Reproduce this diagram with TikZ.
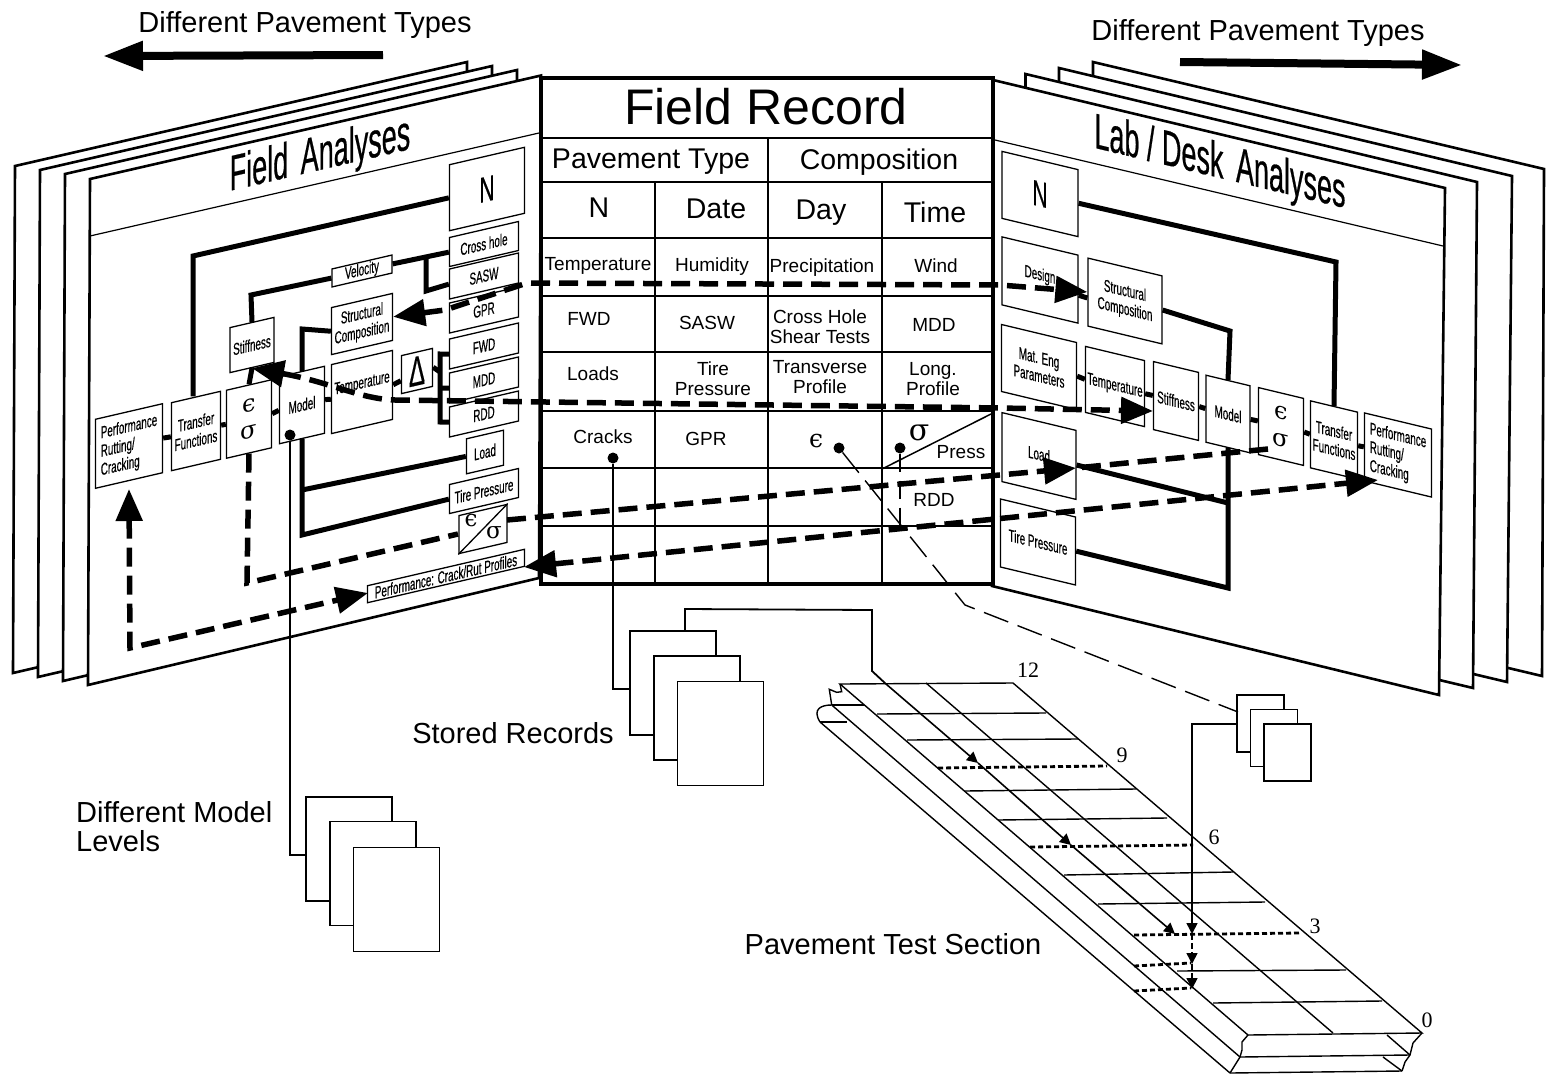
\documentclass[tikz,border=0pt]{standalone}
\usepackage{fontspec}
\setmainfont{Liberation Sans}
\newfontfamily\narrowfont[FakeStretch=0.58,FakeBold=0.4]{Liberation Sans}
\newfontfamily\headfont[FakeStretch=0.54,FakeBold=0.4]{Liberation Sans}
\newfontfamily\numfont{Liberation Serif}
\newfontfamily\symfont{DejaVu Serif}
\usetikzlibrary{arrows.meta}
\newcommand{\fsize}[1]{\fontsize{#1}{#1}\selectfont}
\tikzset{
  pagesheet/.style={draw, fill=white, line width=2.6pt, line join=miter},
  lbox/.style 2 args={draw, fill=white, line width=1.3pt, inner sep=0pt, yslant=0.232, align=center,
    minimum width=#1pt, minimum height=#2pt, font=\narrowfont\fontsize{17}{18.5}\selectfont},
  rbox/.style 2 args={draw, fill=white, line width=1.3pt, inner sep=0pt, yslant=-0.24, align=center,
    minimum width=#1pt, minimum height=#2pt, font=\narrowfont\fontsize{17}{18.5}\selectfont},
  lhead/.style={inner sep=0pt, yslant=0.232, font=\headfont\fsize{50}},
  rhead/.style={inner sep=0pt, yslant=-0.24, font=\headfont\fsize{50}},
  cell/.style={inner sep=0pt, align=center, font=\fontsize{19}{20}\selectfont},
  bigcell/.style={inner sep=0pt, font=\fsize{28.5}},
  caption/.style={inner sep=0pt, align=left, font=\fontsize{29}{29}\selectfont},
  numlabel/.style={inner sep=0pt, font=\numfont\fsize{22}},
  greek/.style={inner sep=0pt, align=center, font=\symfont\fontsize{#1}{27}\selectfont},
  link/.style={line width=5pt},
  dashline/.style={line width=5.5pt, dash pattern=on 19pt off 9pt, >={Triangle[length=32pt,width=26pt]}},
  wire/.style={line width=1.8pt},
  thinline/.style={line width=1.4pt},
  dotline/.style={line width=2.8pt, dash pattern=on 5pt off 3pt},
  smallarrow/.style={line width=1.6pt, >={Triangle[length=11pt,width=11pt]}},
  sheet/.style={draw, fill=white, line width=1.9pt, inner sep=0pt},
  dotmark/.style={circle, fill=black, inner sep=0pt, minimum size=11pt},
}
\begin{document}
\begin{tikzpicture}[x=1pt, y=-1pt]
  \useasboundingbox (0,0) rectangle (1547,1076);

  % pages
  \draw[pagesheet] (15,166) -- (467,62) -- (465,568) -- (13,673) -- cycle;
  \draw[pagesheet] (40,170) -- (492,66) -- (490,572) -- (38,677) -- cycle;
  \draw[pagesheet] (65,174) -- (517,70) -- (515,575) -- (63,681) -- cycle;
  \draw[pagesheet] (90,179) -- (541,75.5) -- (539,578) -- (88,685) -- cycle;
  \draw[pagesheet] (1093,62) -- (1544,169) -- (1542,676) -- (1091,569) -- cycle;
  \draw[pagesheet] (1059,68) -- (1512,176) -- (1507,682) -- (1057,575) -- cycle;
  \draw[pagesheet] (1025.5,74) -- (1477,182) -- (1473,688) -- (1023,581) -- cycle;
  \draw[pagesheet] (993,80) -- (1445,188) -- (1439,695) -- (992,586) -- cycle;
  \draw[line width=1.2pt] (90,236) -- (539,133);
  \draw[line width=1.2pt] (995,140) -- (1443,246);
  \node[lhead] (lTitle) at (320,157) {Field\hspace{0.25em}Analyses};
  \node[rhead] (rTitle) at (1220,165) {Lab / Desk\hspace{0.25em}Analyses};

  % field analyses page
  \node[lbox={75}{66}, font=\narrowfont\fsize{36}] (lN) at (487,189) {N};
  \node[lbox={69}{29}] (lCross) at (484,244) {Cross hole};
  \node[lbox={69}{30}] (lSasw) at (484,276) {SASW};
  \node[lbox={69}{30}] (lGpr) at (484,310) {GPR};
  \node[lbox={69}{30}] (lFwd) at (484,346) {FWD};
  \node[lbox={69}{30}] (lMdd) at (484,380) {MDD};
  \node[lbox={69}{30}] (lRdd) at (484,414) {RDD};
  \node[lbox={37}{35}] (lLoad) at (485,452) {Load};
  \node[lbox={69}{29}] (lTire) at (484,491) {Tire Pressure};
  \node[lbox={48}{38}] (lRatio) at (483,529) {};
  \node[lbox={157}{17}] (lProfiles) at (446,576) {Performance: Crack/Rut Profiles};
  \node[lbox={60}{18}] (lVel) at (362,271) {Velocity};
  \node[lbox={61}{47}] (lStruct) at (362,324) {Structural\\Composition};
  \node[lbox={61}{69}] (lTemp) at (362,392) {\raisebox{19pt}{Temperature}};
  \node[lbox={31}{38}, font=\narrowfont\fsize{42}] (lDelta) at (417,371) {Δ};
  \node[lbox={45}{67}] (lModel) at (302,405) {Model};
  \node[lbox={44}{45}] (lStiff) at (252,345) {Stiffness};
  \node[lbox={45}{68}, greek=24] (lStrain) at (249,419) {ϵ\\σ};
  \node[lbox={49}{68}] (lTrans) at (196,431) {Transfer\\Functions};
  \node[lbox={67}{69}, align=left] (lPerf) at (129,446) {Performance\\Rutting/\\Cracking};
  \node[greek=23] (lRatioE) at (471,521) {ϵ};
  \node[greek=23] (lRatioS) at (494,533) {σ};
  \draw[line width=1.3pt] (lRatio.south west) -- (lRatio.north east);

  \coordinate (lOuter) at (193,256);
  \coordinate (lMid) at (251,295);
  \coordinate (lBranchA) at (426,256);
  \coordinate (lBranchB) at (426,291);
  \coordinate (lCompC) at (302,329);
  \coordinate (lCombT) at (440,354);
  \coordinate (lCombM) at (440,388);
  \coordinate (lCombB) at (440,422);
  \coordinate (lCombD) at (440,372);
  \coordinate (lLoadC) at (302,490);
  \coordinate (lTireC) at (302,535);
  \draw[link] (lN.west) -- (lOuter) -- (lTrans.north -| lOuter);
  \draw[link] (lStiff.north) -- (lMid) -- (lVel.west);
  \draw[link] (lVel.east) -- (lCross.west);
  \draw[link] (lBranchA) -- (lBranchB) -- (lSasw.west);
  \draw[link] (lStiff.south) -- (lStrain.north);
  \draw[link] (lStruct.west) -- (lCompC) -- (lModel.north);
  \draw[link] (lModel.east) -- (lTemp.west);
  \draw[link] (lTemp.east) -- ([yshift=-6pt]lDelta.west);
  \draw[link] (lDelta.east) -- (lCombD);
  \draw[link] (lFwd.west) -- (lCombT) -- (lCombB) -- (lRdd.west);
  \draw[link] (lMdd.west) -- (lCombM);
  \draw[link] (lModel.west) -- (lStrain.east);
  \draw[link] (lStrain.west) -- (lTrans.east);
  \draw[link] (lTrans.west) -- (lPerf.east);
  \draw[link] (lModel.south) -- (lTireC) -- (lTire.west);
  \draw[link] (lLoadC) -- (lLoad.west);

  % lab / desk page
  \node[rbox={76}{67}, font=\narrowfont\fsize{36}] (rN) at (1040,194) {N};
  \node[rbox={76}{68}] (rDesign) at (1040,280) {\raisebox{12pt}{Design}};
  \node[rbox={74}{68}] (rStruct) at (1125,301) {Structural\\Composition};
  \node[rbox={75}{67}] (rMat) at (1039,367) {Mat. Eng\\Parameters};
  \node[rbox={59}{66}] (rTemp) at (1115,386.5) {Temperature};
  \node[rbox={45}{68}] (rStiff) at (1176,401) {Stiffness};
  \node[rbox={44}{67}] (rModel) at (1228,414) {Model};
  \node[rbox={45}{67}, greek=24] (rStrain) at (1281,426.5) {ϵ\\σ};
  \node[rbox={47}{67}] (rTrans) at (1334,440) {Transfer\\Functions};
  \node[rbox={67}{68}, align=left] (rPerf) at (1398,455) {Performance\\Rutting/\\Cracking};
  \node[rbox={74}{69}] (rLoad) at (1039,456) {\raisebox{4pt}{Load}};
  \node[rbox={75}{68}] (rTire) at (1038,542) {Tire Pressure};

  \coordinate (rOuter) at (1336,262);
  \coordinate (rCompC) at (1230,331);
  \coordinate (rLow) at (1228,588);
  \coordinate (rLoadC) at (1228,503);
  \draw[link] (rN.east) -- (rOuter) -- (rTrans.north);
  \draw[link] (rStruct.east) -- (rCompC) -- (rModel.north);
  \draw[link] (rModel.south) -- (rLow) -- (rTire.east);
  \draw[link] (rLoad.east) -- (rLoadC);
  \draw[link] ([yshift=-6pt]rDesign.east) -- ([yshift=-6pt]rStruct.west);
  \draw[link] (rMat.east) -- (rTemp.west);
  \draw[link] (rTemp.east) -- (rStiff.west);
  \draw[link] (rStiff.east) -- (rModel.west);
  \draw[link] (rModel.east) -- (rStrain.west);
  \draw[link] (rStrain.east) -- (rTrans.west);
  \draw[link] (rTrans.east) -- (rPerf.west);

  % field record table
  \draw[fill=white, line width=4pt] (541,78) rectangle (993,584);
  \draw[line width=1.5pt] (541,138) -- (993,138);
  \draw[line width=1.5pt] (541,182) -- (993,182);
  \draw[line width=1.5pt] (541,238) -- (993,238);
  \draw[line width=1.5pt] (541,296) -- (993,296);
  \draw[line width=1.5pt] (541,352) -- (993,352);
  \draw[line width=1.5pt] (541,411) -- (993,411);
  \draw[line width=1.5pt] (541,468) -- (993,468);
  \draw[line width=1.5pt] (541,526) -- (993,526);
  \draw[line width=1.5pt] (655,182) -- (655,582);
  \draw[line width=1.5pt] (768,138) -- (768,582);
  \draw[line width=1.5pt] (882,182) -- (882,582);
  \draw[line width=1.5pt] (882,469) -- (991,414);
  \node[inner sep=0pt, font=\fsize{50}] (tTitle) at (766,107) {Field Record};
  \node[bigcell] (tType) at (651,162) {Pavement Type};
  \node[bigcell] (tComp) at (879,162) {Composition};
  \node[bigcell] (tN) at (599,208) {N};
  \node[bigcell] (tDate) at (716,209) {Date};
  \node[bigcell] (tDay) at (821,213) {Day};
  \node[bigcell] (tTime) at (935,212) {Time};
  \node[cell] (tTemp) at (598,266) {Temperature};
  \node[cell] (tHum) at (712,267) {Humidity};
  \node[cell] (tPrec) at (822,268) {Precipitation};
  \node[cell] (tWind) at (936,266) {Wind};
  \node[cell] (tFwd) at (589,319) {FWD};
  \node[cell] (tSasw) at (707,323) {SASW};
  \node[cell] (tCross) at (820,327) {Cross Hole\\Shear Tests};
  \node[cell] (tMdd) at (934,325) {MDD};
  \node[cell] (tLoads) at (593,374) {Loads};
  \node[cell] (tTire) at (713,379) {Tire\\Pressure};
  \node[cell] (tTrans) at (820,377) {Transverse\\Profile};
  \node[cell] (tLong) at (933,379) {Long.\\Profile};
  \node[cell] (tCracks) at (603,437) {Cracks};
  \node[cell] (tGpr) at (706,439) {GPR};
  \node[greek=25] (tEps) at (816,441) {ϵ};
  \node[greek=30] (tSig) at (919,433) {σ};
  \node[cell] (tPress) at (961,452) {Press};
  \node[cell] (tRdd) at (934,500) {RDD};

  % dashed paths
  \coordinate (dA) at (445,310);
  \coordinate (dB) at (527,283);
  \coordinate (dC) at (1000,285);
  \draw[dashline, <->] (lStruct.east) -- (dA) -- (dB) -- (dC) -- (rStruct.west);
  \coordinate (sA) at (395,400);
  \coordinate (sB) at (1000,408);
  \coordinate (sC) at (1153,411);
  \draw[dashline, <->] (lStiff.south) .. controls (330,382) and (360,399) .. (sA) -- (sB) -- (sC);
  \coordinate (eA) at (247,583);
  \coordinate (eB) at (458,534);
  \coordinate (eC) at (507,520);
  \coordinate (eD) at (1076,468);
  \coordinate (eE) at (1268,449);
  \draw[dashline] (lStrain.south) -- (eA) -- (eB);
  \draw[dashline] (eE) -- (eD);
  \draw[dashline, ->] (eC) -- (eD);
  \coordinate (pA) at (130,648);
  \coordinate (pB) at (368,593);
  \draw[dashline, <->] (129,489) -- (pA) -- (pB);
  \coordinate (fA) at (524,567);
  \coordinate (fB) at (1378,480);
  \draw[dashline, <->] (fA) -- (fB);

  % stacks
  \node[sheet, minimum width=86pt, minimum height=104pt] (recA) at (673,683) {};
  \node[sheet, minimum width=86pt, minimum height=104pt] (recB) at (697,708) {};
  \node[sheet, minimum width=86pt, minimum height=104pt] (recC) at (720.5,733.5) {};
  \node[sheet, minimum width=86pt, minimum height=104pt] (modA) at (349,849) {};
  \node[sheet, minimum width=86pt, minimum height=104pt] (modB) at (373,873.5) {};
  \node[sheet, minimum width=86pt, minimum height=104pt] (modC) at (396.5,899.5) {};
  \node[sheet, minimum width=47pt, minimum height=57pt] (subA) at (1260.5,723.5) {};
  \node[sheet, minimum width=47pt, minimum height=57pt] (subB) at (1274,738) {};
  \node[sheet, minimum width=47pt, minimum height=57pt] (subC) at (1287.5,752.5) {};
  \node[dotmark] (dotCracks) at (613,458) {};
  \node[dotmark] (dotModel) at (290,435) {};
  \node[dotmark] (dotEps) at (839,448) {};
  \node[dotmark] (dotSig) at (900,448) {};
  \coordinate (recIn) at (630,689);
  \coordinate (modIn) at (306,855);
  \coordinate (dashBend) at (965,605);
  \coordinate (subIn) at (1238,712);
  \coordinate (sigEnd) at (900,527);
  \coordinate (subOut) at (1237,724);
  \coordinate (subDrop) at (1192,724);
  \coordinate (tapA) at (685,631);
  \coordinate (tapB) at (685,609);
  \coordinate (tapC) at (872,610);
  \coordinate (tapD) at (872,671);
  \coordinate (tapE) at (886,684);
  \draw[wire] (dotCracks) |- (recIn);
  \draw[wire] (dotModel) |- (modIn);
  \draw[thinline, dash pattern=on 26pt off 10pt] (dotEps) -- (dashBend) -- (subIn);
  \draw[wire, dash pattern=on 18pt off 9pt] (dotSig) -- (sigEnd);
  \draw[wire] (tapA) -- (tapB) -- (tapC) -- (tapD) -- (tapE);

  % pavement test section
  \draw[thinline] (840,684) -- (1013,683) -- (1422,1033) -- (1248,1035) -- cycle;
  \draw[thinline] (840,684) -- (841.7,691.7) -- (836.7,692.3) -- (829.3,689.3) -- (831.7,705);
  \draw[thinline] (831.7,705) .. controls (821,705) and (812,709) .. (820,722);
  \draw[thinline] (831.7,705) -- (864,705);
  \draw[thinline] (820,722) -- (847,722);
  \draw[thinline] (831.7,705) -- (1240,1057);
  \draw[thinline] (820,722) -- (1230,1073);
  \draw[thinline] (1248,1035) -- (1242,1042) -- (1242,1050) -- (1240,1057) -- (1230,1073);
  \draw[thinline] (1422,1033) -- (1413,1043) -- (1410,1055) -- (1405,1062) -- (1402,1071);
  \draw[thinline] (1240,1057) -- (1410,1055);
  \draw[thinline] (1230,1073) -- (1402,1071);
  \draw[thinline] (1387,1035) -- (1410,1055);
  \draw[thinline] (1383,1057) -- (1402,1071);
  \draw[thinline] (926,683) -- (1333,1033);
  \draw[thinline] (877,714) -- (1046,713);
  \draw[thinline] (907,740) -- (1078,739);
  \draw[thinline] (965,791) -- (1136,789);
  \draw[thinline] (998,820) -- (1167,818);
  \draw[thinline] (1064,875) -- (1233,872);
  \draw[thinline] (1098,904) -- (1265,902);
  \draw[thinline] (1177,971) -- (1346,970);
  \draw[thinline] (1213,1003) -- (1382,1001);
  \draw[dotline] (938,768) -- (1107,766);
  \draw[dotline] (1030,847) -- (1193,845);
  \draw[dotline] (1134,935) -- (1300,933);
  \draw[dotline] (1134,966) -- (1191,963);
  \draw[dotline] (1134,991) -- (1191,988);
  \coordinate (runA) at (978,763);
  \coordinate (runB) at (1071,845);
  \coordinate (runC) at (1175,934);
  \draw[smallarrow, ->] (tapE) -- (runA);
  \draw[smallarrow, ->] (runA) -- (runB);
  \draw[smallarrow, ->] (runB) -- (runC);
  \draw[smallarrow, ->] (subOut) -- (subDrop) -- (1192,934);
  \draw[smallarrow, ->, dash pattern=on 6pt off 3pt] (1192,934) -- (1192,964);
  \draw[smallarrow, ->, dash pattern=on 6pt off 3pt] (1192,964) -- (1192,989);
  \node[numlabel] (mark12) at (1028,670) {12};
  \node[numlabel] (mark9) at (1122,755) {9};
  \node[numlabel] (mark6) at (1214,837) {6};
  \node[numlabel] (mark3) at (1315,926) {3};
  \node[numlabel] (mark0) at (1427,1020) {0};

  % captions
  \node[caption] (capLeft) at (305,25) {Different Pavement Types};
  \node[caption] (capRight) at (1258,33) {Different Pavement Types};
  \node[caption] (capStored) at (513,733) {Stored Records};
  \node[caption, anchor=west] (capModel) at (76,827) {Different Model\\Levels};
  \node[caption] (capTest) at (893,944) {Pavement Test Section};
  \coordinate (leftTail) at (383,55);
  \coordinate (leftTip) at (103,56);
  \coordinate (rightTail) at (1180,62);
  \coordinate (rightTip) at (1462,65);
  \draw[line width=8pt, -{Triangle[length=40pt,width=28pt]}] (leftTail) -- (leftTip);
  \draw[line width=8pt, -{Triangle[length=40pt,width=28pt]}] (rightTail) -- (rightTip);
\end{tikzpicture}
\end{document}
